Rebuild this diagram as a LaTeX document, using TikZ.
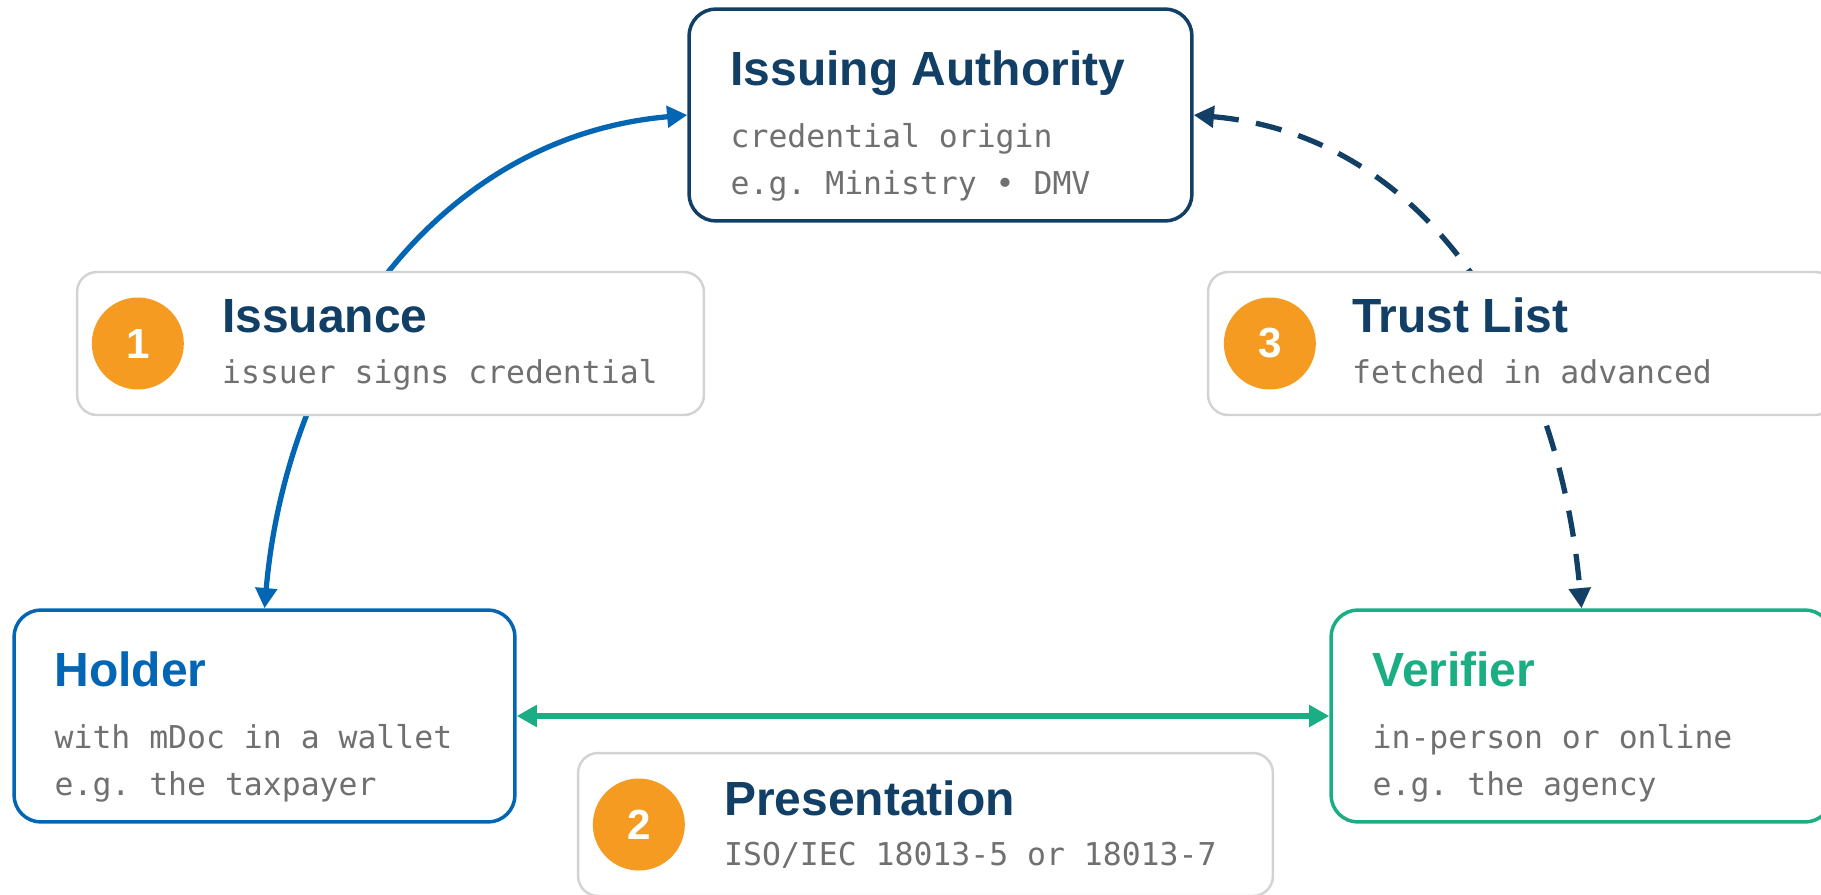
\documentclass[tikz,border=0pt]{standalone}
\usepackage{fontspec}
\setmainfont{Liberation Sans}
\setmonofont{DejaVu Sans Mono}
\usetikzlibrary{arrows.meta,positioning,calc}

\definecolor{navy}{HTML}{123F66}
\definecolor{holderblue}{HTML}{0366B4}
\definecolor{verigreen}{HTML}{1BAE84}
\definecolor{steporange}{HTML}{F59B22}
\definecolor{subgray}{HTML}{707070}
\definecolor{boxgray}{HTML}{D3D3D3}

\begin{document}
\begin{tikzpicture}[x=0.02cm, y=0.02cm, >={Triangle[length=11.5pt, width=12pt]},
    actor/.style={draw, fill=white, rounded corners=0.54cm, line width=2pt, minimum width=10.02cm, minimum height=4.24cm},
    stepbox/.style={draw=boxgray, fill=white, rounded corners=0.4cm, line width=1.4pt, minimum width=12.54cm, minimum height=2.86cm},
    num/.style={circle, fill=steporange, minimum size=1.84cm, inner sep=0, text=white, font=\fontsize{24}{28}\selectfont\bfseries},
    ttl/.style={anchor=base west, inner sep=0, font=\fontsize{27.3}{32}\selectfont\bfseries},
    sub/.style={anchor=base west, inner sep=0, text=subgray, font=\fontsize{17.9}{21}\selectfont\ttfamily},
    flow/.style={line width=3pt}]
    \clip (0,0) rectangle (1821,894);
    \fill[white] (0,0) rectangle (1821,894);

    % parties
    \node[actor, draw=navy, minimum width=10.06cm] (ia) at (940.5,779) {};
    \node[ttl, text=navy] (iaT) at ([shift={(43,-78)}]ia.north west) {Issuing Authority};
    \node[sub] (iaS1) at ([shift={(43,-140)}]ia.north west) {credential origin};
    \node[sub] (iaS2) at ([shift={(43,-187)}]ia.north west) {e.g. Ministry • DMV};

    \node[actor, draw=holderblue] (holder) at (264.5,178) {};
    \node[ttl, text=holderblue] (hoT) at ([shift={(42,-78)}]holder.north west) {Holder};
    \node[sub] (hoS1) at ([shift={(42,-140)}]holder.north west) {with mDoc in a wallet};
    \node[sub] (hoS2) at ([shift={(42,-187)}]holder.north west) {e.g. the taxpayer};

    \node[actor, draw=verigreen] (verifier) at (1581.5,178) {};
    \node[ttl, text=verigreen] (veT) at ([shift={(43,-78)}]verifier.north west) {Verifier};
    \node[sub] (veS1) at ([shift={(43,-140)}]verifier.north west) {in-person or online};
    \node[sub] (veS2) at ([shift={(43,-187)}]verifier.north west) {e.g. the agency};

    % flows
    \draw[flow, <->, holderblue] (holder.north) to[out=85, in=185] (ia.west);
    \draw[flow, <->, navy, dash pattern=on 15pt off 10pt] (ia.east) to[out=-5, in=95] (verifier.north);
    \draw[flow, <->, verigreen] (holder.east) -- (verifier.west);

    % steps
    \node[stepbox] (issuance) at (390.5,550.5) {};
    \node[num] (n1) at ([shift={(62,0)}]issuance.west) {1};
    \node[ttl, text=navy] (isT) at ([shift={(146,-62)}]issuance.north west) {Issuance};
    \node[sub] (isS) at ([shift={(146,-113)}]issuance.north west) {issuer signs credential};

    \node[stepbox] (trust) at (1521.5,550.5) {};
    \node[num] (n3) at ([shift={(63,0)}]trust.west) {3};
    \node[ttl, text=navy] (trT) at ([shift={(145,-62)}]trust.north west) {Trust List};
    \node[sub] (trS) at ([shift={(145,-113)}]trust.north west) {fetched in advanced};

    \node[stepbox, minimum width=13.9cm] (present) at (925.5,69.5) {};
    \node[num] (n2) at ([shift={(62,0)}]present.west) {2};
    \node[ttl, text=navy] (prT) at ([shift={(147,-64)}]present.north west) {Presentation};
    \node[sub] (prS) at ([shift={(147,-114)}]present.north west) {ISO/IEC 18013-5 or 18013-7};
\end{tikzpicture}
\end{document}
